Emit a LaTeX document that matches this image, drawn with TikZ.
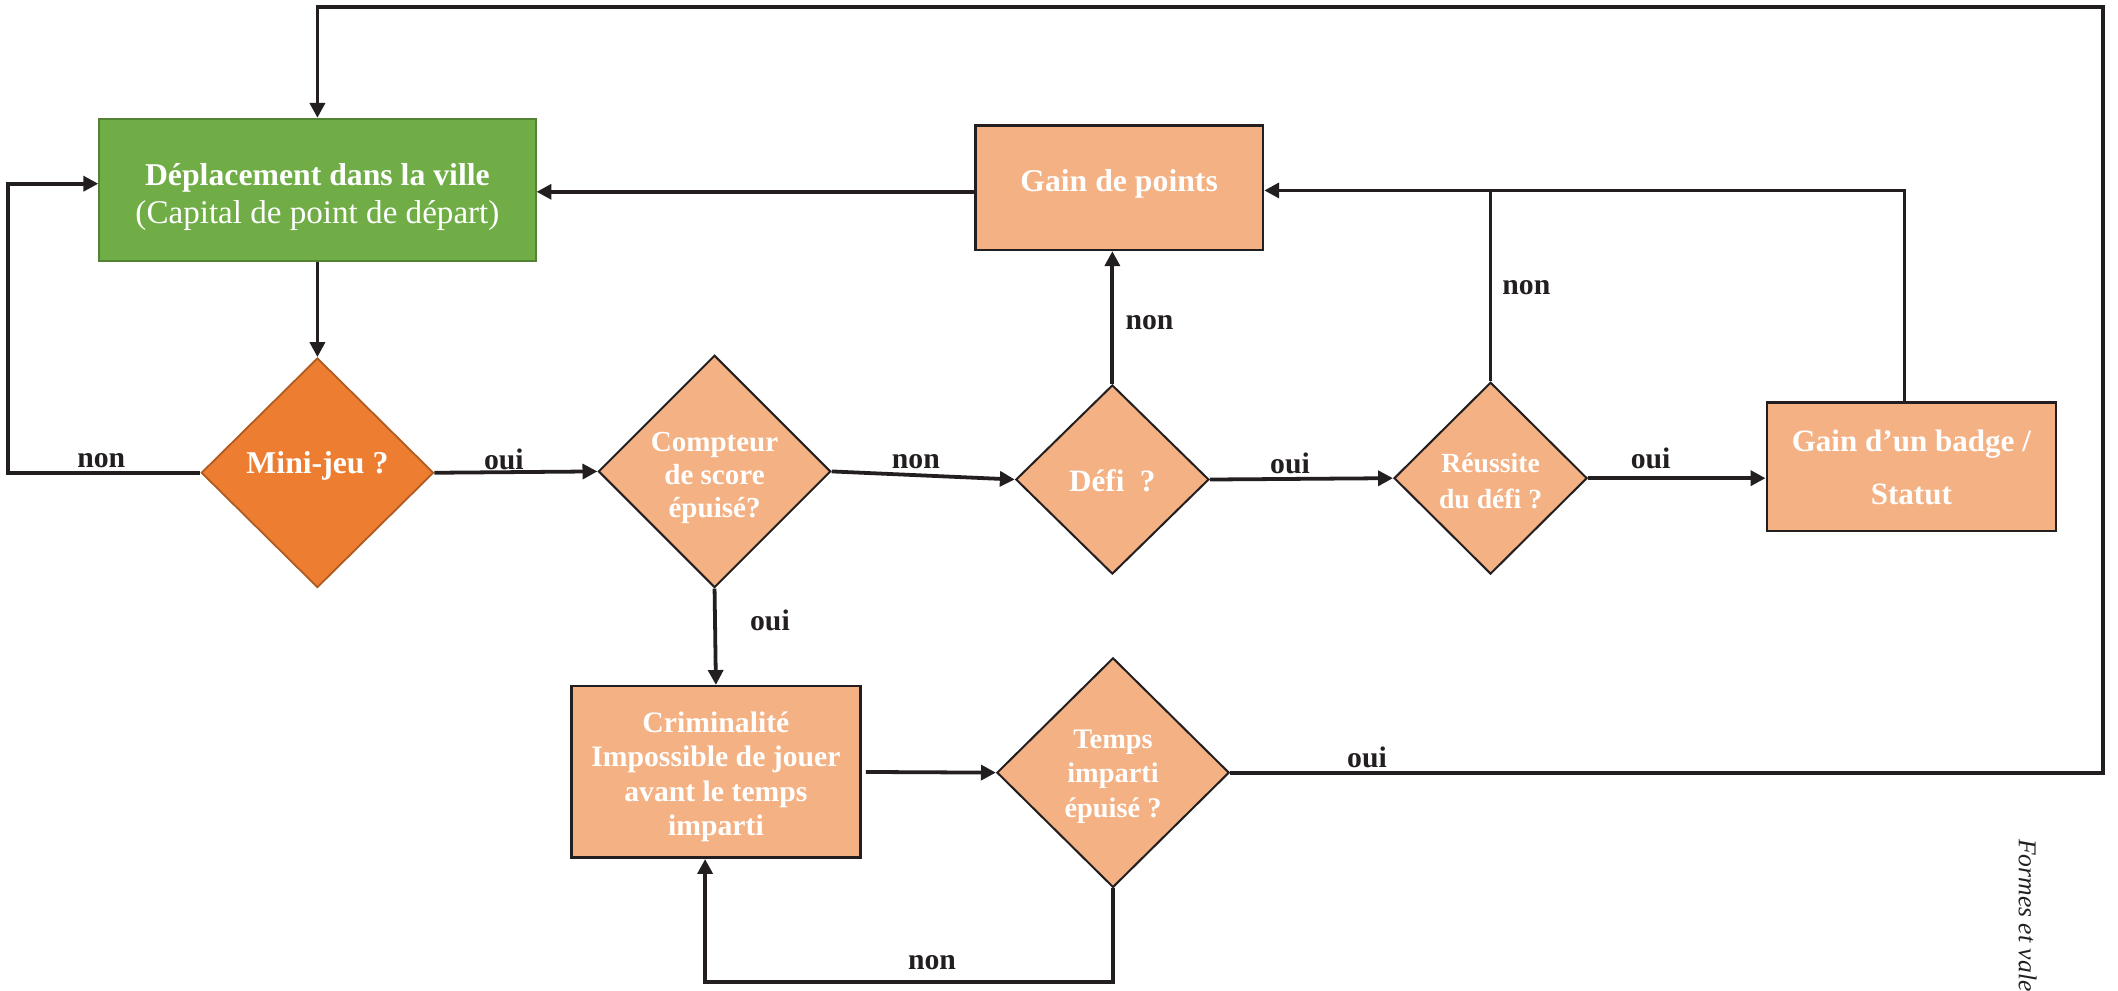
\documentclass[tikz,border=0pt]{standalone}
\usepackage{fontspec}
\setmainfont{Liberation Serif}
\usetikzlibrary{shapes.geometric,arrows.meta,calc}
\definecolor{vert}{HTML}{70AD47}
\definecolor{vertb}{HTML}{548235}
\definecolor{orf}{HTML}{ED7D31}
\definecolor{orfb}{HTML}{AE5A21}
\definecolor{orc}{HTML}{F4B183}
\definecolor{lnc}{HTML}{231F20}
\begin{document}
\begin{tikzpicture}[x=1pt,y=-1pt,
  box/.style={rectangle, draw=lnc, line width=1.9pt, fill=orc, inner sep=0pt},
  dia/.style={diamond, aspect=1, draw=lnc, line width=1.5pt, fill=orc, inner sep=0pt},
  txt/.style={text=white, align=center, inner sep=0pt},
  arr/.style={draw=lnc, line width=2.8pt, -{Triangle[length=11pt,width=11pt]}},
  conn/.style={draw=lnc, line width=2.8pt},
  lab/.style={font=\fontsize{22}{22}\selectfont\bfseries, text=lnc, inner sep=0pt}]
\useasboundingbox (0,0) rectangle (1568,733);
\fill[white] (0,0) rectangle (1568,733);

% shapes
\node[rectangle, draw=vertb, line width=1.5pt, fill=vert, inner sep=0pt,
      minimum width=323pt, minimum height=105pt] (green) at (235,140.5) {};
\node[box, minimum width=213pt, minimum height=92pt] (gain) at (828.5,139) {};
\node[box, minimum width=214pt, minimum height=95pt] (badge) at (1415,345.5) {};
\node[box, minimum width=214pt, minimum height=127pt] (crim) at (530,571.5) {};
\node[diamond, aspect=1, draw=orfb, line width=1.3pt, fill=orf, inner sep=0pt,
      minimum width=172pt, minimum height=170pt] (mini) at (235,350) {};
\node[dia, minimum width=172pt, minimum height=172pt] (comp) at (529,349) {};
\node[dia, minimum width=143pt, minimum height=140pt] (defi) at (823.5,355) {};
\node[dia, minimum width=143pt, minimum height=142pt] (reu) at (1103.5,354) {};
\node[dia, minimum width=172pt, minimum height=170pt] (temps) at (824,572) {};

% texts
\node[txt, font=\fontsize{24}{28}\selectfont] (greent) at (235,146)
  {{\bfseries\fontsize{23.5}{28}\selectfont D\'eplacement dans la ville}\\[0pt]
   {\fontsize{24.5}{28}\selectfont (Capital de point de d\'epart)}};
\node[txt, font=\fontsize{23.5}{26}\selectfont\bfseries] (gaint) at (828.5,136) {Gain de points};
\node[txt, font=\fontsize{23}{26}\selectfont\bfseries] (badget) at (1415,346) {Gain d’un badge /\\[13pt] Statut};
\node[txt, font=\fontsize{22}{25.5}\selectfont\bfseries] (crimt) at (530,575)
  {Criminalit\'e\\ Impossible de jouer\\ avant le temps\\ imparti};
\node[txt, font=\fontsize{23.5}{26}\selectfont\bfseries] (minit) at (235,345) {Mini-jeu ?};
\node[txt, font=\fontsize{21.5}{24.5}\selectfont\bfseries] (compt) at (529,354) {Compteur\\ de score\\ \'epuis\'e?};
\node[txt, font=\fontsize{23}{26}\selectfont\bfseries] (defit) at (823.5,356) {D\'efi\ \ ?};
\node[txt, font=\fontsize{20.5}{27}\selectfont\bfseries] (reut) at (1103.5,356) {R\'eussite\\ du d\'efi ?};
\node[txt, font=\fontsize{21}{25.5}\selectfont\bfseries] (tempst) at (824,575) {Temps\\ imparti\\ \'epuis\'e ?};

% connectors
\draw[arr] (green.south) -- (mini.north);
\draw[arr] (mini.west) -| (6,136) -- (green.west |- 0,136);
\draw[arr] (mini.east) -- (comp.west);
\draw[arr] (comp.east) -- (defi.west);
\draw[arr] (comp.south) -- (crim.north);
\draw[arr] (defi.north) -- (defi.north |- gain.south);
\draw[arr] (defi.east) -- (reu.west);
\draw[arr] (reu.east) -- (reu.east -| badge.west);
\draw[conn] (reu.north) -- (reu.north |- 0,141);
\draw[arr] ([xshift=-5pt]badge.north) |- (gain.east |- 0,141);
\draw[arr] (gain.west |- 0,142) -- (green.east |- 0,142);
\draw[arr] ([xshift=3pt]crim.east) -- (temps.west);
\draw[arr] (temps.east) -| (1557,5) -| (green.north);
\draw[arr] (temps.south) |- (522,727) -- ([xshift=-8pt]crim.south);

% labels
\node[lab] (l1) at (75,341) {non};
\node[lab] (l2) at (373,340) {oui};
\node[lab] (l3) at (678,342) {non};
\node[lab] (l4) at (851,239) {non};
\node[lab] (l5) at (955,343) {oui};
\node[lab] (l6) at (1130,213) {non};
\node[lab] (l7) at (1222,339) {oui};
\node[lab] (l8) at (570,459) {oui};
\node[lab] (l9) at (1012,561) {oui};
\node[lab] (l10) at (690,713) {non};

\node[rotate=-90, anchor=west, inner sep=0pt, text=lnc, font=\fontsize{19}{19}\selectfont\itshape] (fv) at (1501,621) {Formes et vale};
\end{tikzpicture}
\end{document}
